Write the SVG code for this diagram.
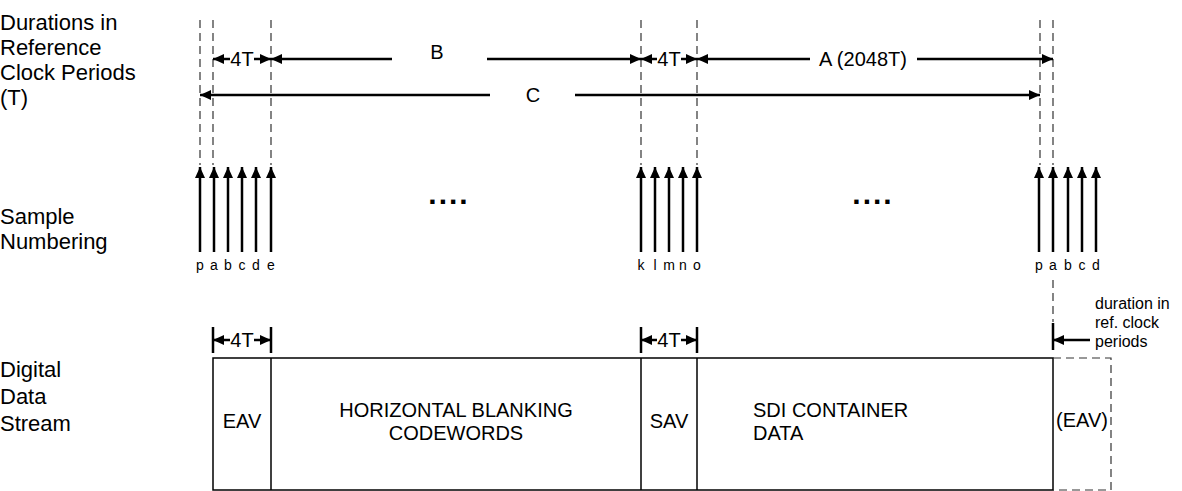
<svg xmlns="http://www.w3.org/2000/svg" width="1182" height="491" viewBox="0 0 1182 491">
<style>
text{font-family:"Liberation Sans",Arial,sans-serif;fill:#000}
.lbl{font-size:22px}
.dim{font-size:20px}
.box{font-size:20px}
.sm{font-size:14px}
.nt{font-size:16px}
.dots{font-size:30px;letter-spacing:2px;font-weight:bold}
.dash{stroke:#333;stroke-width:1.2;stroke-dasharray:8,5;fill:none}
.sa{stroke:#000;stroke-width:2.5;marker-end:url(#ah)}
.tick{stroke:#000;stroke-width:2.5}
.bl{stroke:#000;stroke-width:1.5;fill:none}
</style>
<defs>
<marker id="ah" viewBox="0 0 10 10" refX="10" refY="5" markerWidth="4.4" markerHeight="4" markerUnits="strokeWidth" orient="auto" preserveAspectRatio="none"><path d="M0,0L10,5L0,10z" fill="#000"/></marker>
</defs>
<g id="labels">
<text class="lbl" x="0" y="30">Durations in</text>
<text class="lbl" x="0" y="55">Reference</text>
<text class="lbl" x="0" y="80">Clock Periods</text>
<text class="lbl" x="0" y="105">(T)</text>
<text class="lbl" x="0" y="224">Sample</text>
<text class="lbl" x="0" y="249">Numbering</text>
<text class="lbl" x="0" y="377">Digital</text>
<text class="lbl" x="0" y="404">Data</text>
<text class="lbl" x="0" y="431">Stream</text>
</g>
<g id="guides">
<line class="dash" x1="200" y1="20" x2="200" y2="165"/>
<line class="dash" x1="213" y1="20" x2="213" y2="165"/>
<line class="dash" x1="271" y1="20" x2="271" y2="165"/>
<line class="dash" x1="641" y1="20" x2="641" y2="165"/>
<line class="dash" x1="697" y1="20" x2="697" y2="165"/>
<line class="dash" x1="1040" y1="20" x2="1040" y2="165"/>
<line class="dash" x1="1053" y1="20" x2="1053" y2="165"/>
<line class="dash" x1="1053" y1="280" x2="1053" y2="322"/>
</g>
<g id="connectors">
<line class="sa" x1="230" y1="59" x2="213" y2="59"/>
<line class="sa" x1="254" y1="59" x2="271" y2="59"/>
<line class="sa" x1="392" y1="59" x2="271" y2="59"/>
<line class="sa" x1="487" y1="59" x2="641" y2="59"/>
<line class="sa" x1="657" y1="59" x2="641" y2="59"/>
<line class="sa" x1="681" y1="59" x2="697" y2="59"/>
<line class="sa" x1="810" y1="59" x2="697" y2="59"/>
<line class="sa" x1="917" y1="59" x2="1053" y2="59"/>
<line class="sa" x1="490" y1="95" x2="200" y2="95"/>
<line class="sa" x1="575" y1="95" x2="1040" y2="95"/>
<line class="sa" x1="200" y1="252" x2="200" y2="167"/>
<line class="sa" x1="214" y1="252" x2="214" y2="167"/>
<line class="sa" x1="228" y1="252" x2="228" y2="167"/>
<line class="sa" x1="242" y1="252" x2="242" y2="167"/>
<line class="sa" x1="256" y1="252" x2="256" y2="167"/>
<line class="sa" x1="271" y1="252" x2="271" y2="167"/>
<line class="sa" x1="641" y1="252" x2="641" y2="167"/>
<line class="sa" x1="655" y1="252" x2="655" y2="167"/>
<line class="sa" x1="669" y1="252" x2="669" y2="167"/>
<line class="sa" x1="683" y1="252" x2="683" y2="167"/>
<line class="sa" x1="697" y1="252" x2="697" y2="167"/>
<line class="sa" x1="1039" y1="252" x2="1039" y2="167"/>
<line class="sa" x1="1053" y1="252" x2="1053" y2="167"/>
<line class="sa" x1="1068" y1="252" x2="1068" y2="167"/>
<line class="sa" x1="1082" y1="252" x2="1082" y2="167"/>
<line class="sa" x1="1096" y1="252" x2="1096" y2="167"/>
<line class="tick" x1="213" y1="327" x2="213" y2="353"/>
<line class="tick" x1="271" y1="327" x2="271" y2="353"/>
<line class="sa" x1="230" y1="340" x2="213" y2="340"/>
<line class="sa" x1="254" y1="340" x2="271" y2="340"/>
<line class="tick" x1="641" y1="327" x2="641" y2="353"/>
<line class="tick" x1="697" y1="327" x2="697" y2="353"/>
<line class="sa" x1="657" y1="340" x2="641" y2="340"/>
<line class="sa" x1="681" y1="340" x2="697" y2="340"/>
<line class="tick" x1="1053" y1="323" x2="1053" y2="350"/>
<line class="sa" x1="1090" y1="340" x2="1053" y2="340"/>
</g>
<g id="dimtext">
<text class="dim" x="242" y="66" text-anchor="middle">4T</text>
<text class="dim" x="437" y="59" text-anchor="middle">B</text>
<text class="dim" x="669" y="66" text-anchor="middle">4T</text>
<text class="dim" x="863" y="66" text-anchor="middle">A (2048T)</text>
<text class="dim" x="533" y="102" text-anchor="middle">C</text>
<text class="dim" x="242" y="347" text-anchor="middle">4T</text>
<text class="dim" x="669" y="347" text-anchor="middle">4T</text>
<text class="dots" x="449" y="204" text-anchor="middle">....</text>
<text class="dots" x="873" y="204" text-anchor="middle">....</text>
</g>
<g id="letters">
<text class="sm" x="200" y="270" text-anchor="middle">p</text>
<text class="sm" x="214" y="270" text-anchor="middle">a</text>
<text class="sm" x="228" y="270" text-anchor="middle">b</text>
<text class="sm" x="242" y="270" text-anchor="middle">c</text>
<text class="sm" x="256" y="270" text-anchor="middle">d</text>
<text class="sm" x="271" y="270" text-anchor="middle">e</text>
<text class="sm" x="641" y="270" text-anchor="middle">k</text>
<text class="sm" x="655" y="270" text-anchor="middle">l</text>
<text class="sm" x="669" y="270" text-anchor="middle">m</text>
<text class="sm" x="683" y="270" text-anchor="middle">n</text>
<text class="sm" x="697" y="270" text-anchor="middle">o</text>
<text class="sm" x="1039" y="270" text-anchor="middle">p</text>
<text class="sm" x="1053" y="270" text-anchor="middle">a</text>
<text class="sm" x="1068" y="270" text-anchor="middle">b</text>
<text class="sm" x="1082" y="270" text-anchor="middle">c</text>
<text class="sm" x="1096" y="270" text-anchor="middle">d</text>
</g>
<g id="note">
<text class="nt" x="1095" y="309">duration in</text>
<text class="nt" x="1095" y="328">ref. clock</text>
<text class="nt" x="1095" y="347">periods</text>
</g>
<g id="stream">
<rect x="213" y="358" width="840" height="132" class="bl"/>
<line x1="271" y1="358" x2="271" y2="490" class="bl"/>
<line x1="641" y1="358" x2="641" y2="490" class="bl"/>
<line x1="697" y1="358" x2="697" y2="490" class="bl"/>
<path class="dash" d="M1053,358H1111V490H1053"/>
<text class="box" x="242" y="428" text-anchor="middle">EAV</text>
<text class="box" x="456" y="417" text-anchor="middle">HORIZONTAL BLANKING</text>
<text class="box" x="456" y="440" text-anchor="middle">CODEWORDS</text>
<text class="box" x="669" y="428" text-anchor="middle">SAV</text>
<text class="box" x="753" y="417">SDI CONTAINER</text>
<text class="box" x="753" y="440">DATA</text>
<text class="box" x="1082" y="427" text-anchor="middle">(EAV)</text>
</g>
</svg>
